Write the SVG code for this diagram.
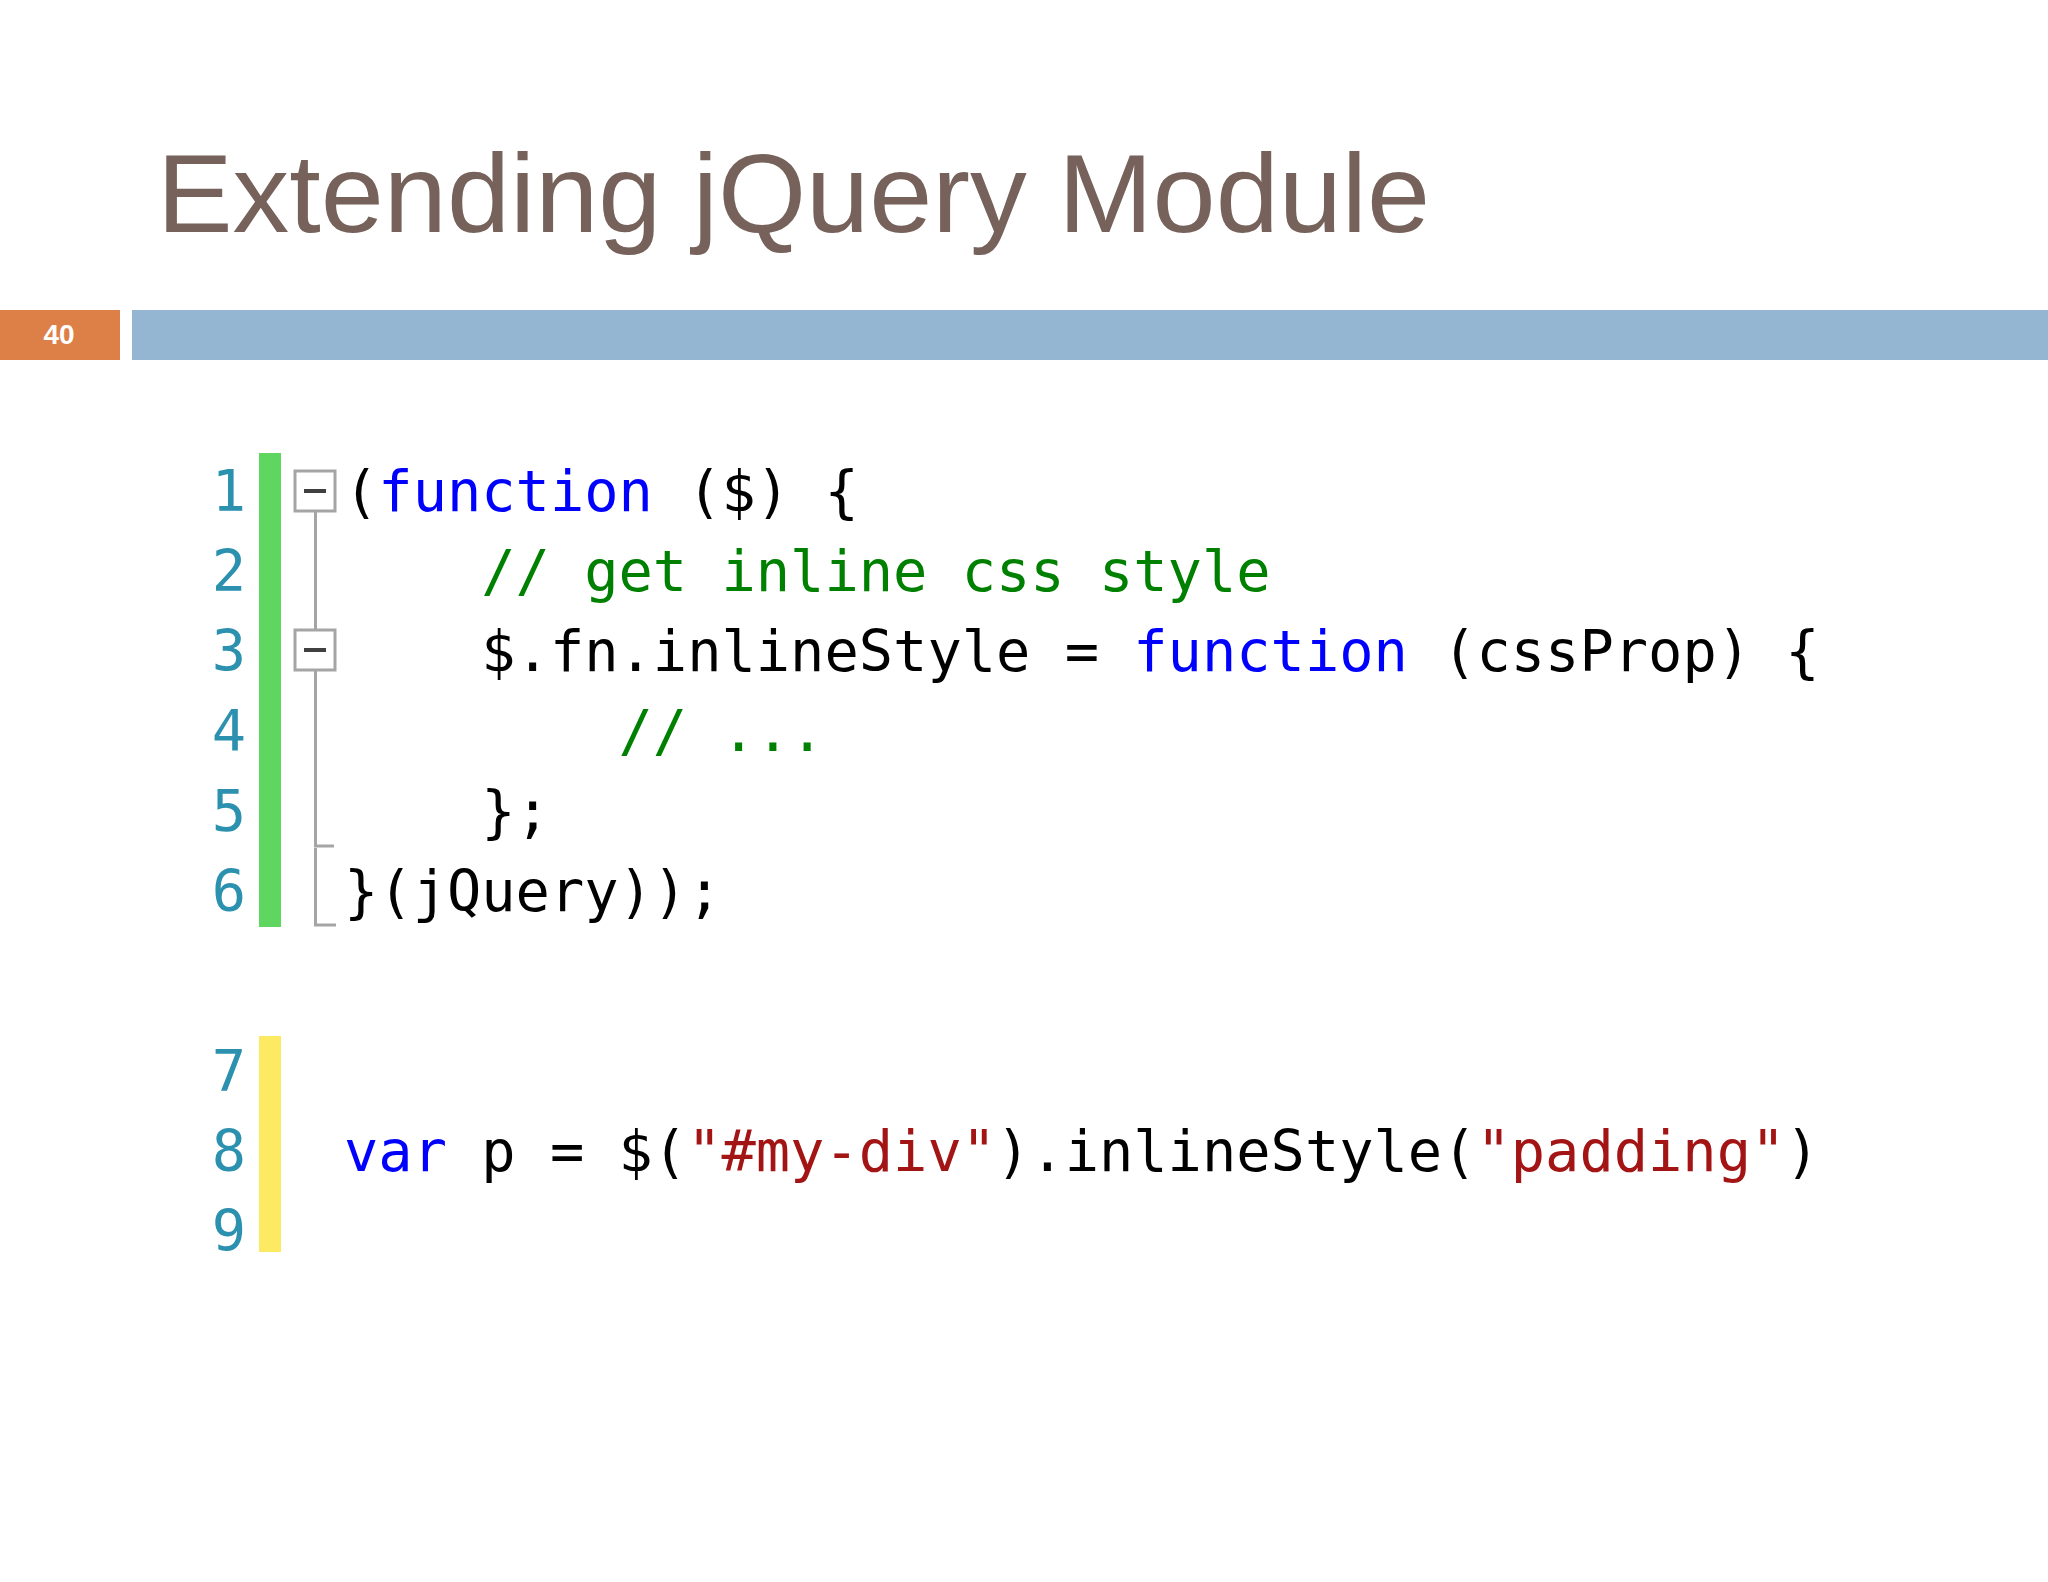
<svg xmlns="http://www.w3.org/2000/svg" width="2048" height="1582" viewBox="0 0 2048 1582">
  <style>
    .code { font-family: "DejaVu Sans Mono", "Liberation Mono", monospace; font-size: 57px; fill: #000000; white-space: pre; }
    .kw { fill: #0000FF; }
    .cm { fill: #008000; }
    .str { fill: #A31515; }
    .ln { font-family: "DejaVu Sans Mono", "Liberation Mono", monospace; font-size: 57px; fill: #2B91AF; text-anchor: end; }
    .fold { fill: none; stroke: #A5A5A5; stroke-width: 3; }
    .minus { stroke: #404040; stroke-width: 4; }
  </style>
  <rect x="0" y="0" width="2048" height="1582" fill="#FFFFFF"/>

  <g id="title">
    <text x="157" y="232" font-family="'Liberation Sans', Arial, sans-serif" font-size="112" fill="#76625A" textLength="1273" lengthAdjust="spacingAndGlyphs">Extending jQuery Module</text>
  </g>

  <g id="header-bar">
    <rect x="0" y="310" width="120" height="50" fill="#DD8047"/>
    <text x="59" y="344" font-family="'Liberation Sans', Arial, sans-serif" font-size="28" font-weight="bold" fill="#FFFFFF" text-anchor="middle">40</text>
    <rect x="132" y="310" width="1916" height="50" fill="#94B6D2"/>
  </g>

  <g id="change-bars">
    <rect x="259" y="453" width="22" height="474" fill="#5ED660"/>
    <rect x="259" y="1036" width="22" height="216" fill="#FCEB62"/>
  </g>

  <g id="line-numbers">
    <text class="ln" x="246" y="511">1</text>
    <text class="ln" x="246" y="591">2</text>
    <text class="ln" x="246" y="671">3</text>
    <text class="ln" x="246" y="751">4</text>
    <text class="ln" x="246" y="831">5</text>
    <text class="ln" x="246" y="911">6</text>
    <text class="ln" x="246" y="1091">7</text>
    <text class="ln" x="246" y="1171">8</text>
    <text class="ln" x="246" y="1251">9</text>
  </g>

  <g id="folding">
    <rect class="fold" x="295" y="471" width="40" height="40"/>
    <line class="minus" x1="304" y1="491" x2="326" y2="491"/>
    <rect class="fold" x="295" y="630" width="40" height="40"/>
    <line class="minus" x1="304" y1="650" x2="326" y2="650"/>
    <path class="fold" d="M315.5 511 V630 M315.5 670 V846 H334 M315.5 848 V925 H336"/>
  </g>

  <g id="code" xml:space="preserve">
    <text class="code" x="344" y="511">(<tspan class="kw">function</tspan> ($) {</text>
    <text class="code" x="344" y="591"><tspan class="cm">    // get inline css style</tspan></text>
    <text class="code" x="344" y="671">    $.fn.inlineStyle = <tspan class="kw">function</tspan> (cssProp) {</text>
    <text class="code" x="344" y="751"><tspan class="cm">        // ...</tspan></text>
    <text class="code" x="344" y="831">    };</text>
    <text class="code" x="344" y="911">}(jQuery));</text>
    <text class="code" x="344" y="1171"><tspan class="kw">var</tspan> p = $(<tspan class="str">"#my-div"</tspan>).inlineStyle(<tspan class="str">"padding"</tspan>)</text>
  </g>
</svg>
